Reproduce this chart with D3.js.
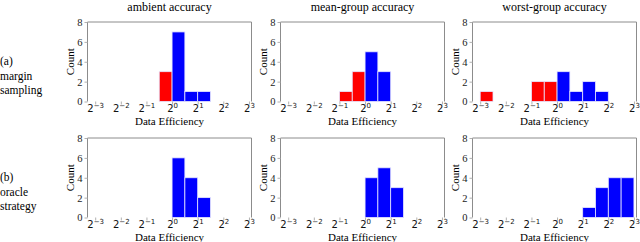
<!DOCTYPE html>
<html>
<head>
<meta charset="utf-8">
<script src="https://cdn.jsdelivr.net/npm/d3@7"></script>
<style>
  body { margin: 0; background: #fff; }
  svg text { font-family: "Liberation Serif", "Times New Roman", serif; }
  .tickX text { font-family: "DejaVu Sans", sans-serif; }
</style>
</head>
<body>
<div id="chart"></div>
<script>
// log2(data efficiency) bin starts, bin width 0.5
const binWidth = 0.5;
const columnTitles = ["ambient accuracy", "mean-group accuracy", "worst-group accuracy"];
const rowLabels = [["(a)", "margin", "sampling"], ["(b)", "oracle", "strategy"]];
const xTicks = [-3, -2, -1, 0, 1, 2, 3];
const yTicks = [0, 2, 4, 6, 8];

const marginAmbientBins = [-0.5, 0, 0.5, 1];
const marginAmbientCounts = [3, 7, 1, 1];
const marginMeanBins = [-1, -0.5, 0, 0.5];
const marginMeanCounts = [1, 3, 5, 3];
const marginWorstBins = [-3, -1, -0.5, 0, 0.5, 1, 1.5];
const marginWorstCounts = [1, 2, 2, 3, 1, 2, 1];

const oracleAmbientBins = [0, 0.5, 1];
const oracleAmbientCounts = [6, 4, 2];
const oracleMeanBins = [0, 0.5, 1];
const oracleMeanCounts = [4, 5, 3];
const oracleWorstBins = [1, 1.5, 2, 2.5];
const oracleWorstCounts = [1, 3, 4, 4];

const panels = [
  [[marginAmbientBins, marginAmbientCounts], [marginMeanBins, marginMeanCounts], [marginWorstBins, marginWorstCounts]],
  [[oracleAmbientBins, oracleAmbientCounts], [oracleMeanBins, oracleMeanCounts], [oracleWorstBins, oracleWorstCounts]]
];

const width = 640, height = 242;
const panelLefts = [87.5, 280.5, 472.5];
const panelW = 164;
const rowTops = [22, 138];
const panelH = 79.5;

const svg = d3.select("#chart").append("svg")
  .attr("width", width)
  .attr("height", height);

const x = d3.scaleLinear().domain([-3.3, 3.1]).range([0, panelW]);
const y = d3.scaleLinear().domain([0, 8]).range([panelH, 0]);

// column titles
columnTitles.forEach((t, c) => {
  svg.append("text")
    .attr("x", panelLefts[c] + panelW / 2)
    .attr("y", 11)
    .attr("text-anchor", "middle")
    .style("font-size", "12px")
    .text(t);
});

rowLabels.forEach((lines, r) => {
  const t = svg.append("text")
    .attr("x", 0)
    .attr("y", rowTops[r] + 43)
    .style("font-size", "11.5px");
  lines.forEach((l, i) => {
    t.append("tspan").attr("x", 0).attr("dy", i === 0 ? 0 : 14.5).text(l);
  });
});

panels.forEach((row, r) => {
  row.forEach(([bins, counts], c) => {
    const g = svg.append("g")
      .attr("transform", `translate(${panelLefts[c]},${rowTops[r]})`);

    const data = bins.map((b, i) => ({ x0: b, count: counts[i] }));

    g.append("g")
      .selectAll("rect")
      .data(data)
      .join("rect")
        .attr("x", d => x(d.x0))
        .attr("y", d => y(d.count))
        .attr("width", d => x(d.x0 + binWidth) - x(d.x0))
        .attr("height", d => y(0) - y(d.count))
        .attr("fill", d => d.x0 < 0 ? "#ff0000" : "#0000ff")
        .attr("stroke", "#e6e6ff")
        .attr("stroke-width", 0.8);

    // spines: left, top, right
    g.append("path")
      .attr("d", `M0,${panelH}V0H${panelW}V${panelH}`)
      .attr("fill", "none")
      .attr("stroke", "#8c8c8c")
      .attr("stroke-width", 1);

    // y axis
    const yAxis = g.append("g")
      .call(d3.axisLeft(y).tickValues(yTicks).tickSize(3).tickPadding(2))
      .call(a => a.select(".domain").remove());
    yAxis.selectAll("line").attr("stroke", "#b0b0b0");
    yAxis.selectAll("text")
      .style("font-family", "'Liberation Serif', serif")
      .style("font-size", "10.5px")
      .attr("fill", "#222");

    // x axis
    const xAxis = g.append("g")
      .attr("class", "tickX")
      .attr("transform", `translate(0,${panelH})`)
      .call(d3.axisBottom(x).tickValues(xTicks).tickSize(3).tickFormat(""))
      .call(a => a.select(".domain").remove());
    xAxis.selectAll("line").attr("stroke", "#b0b0b0");
    xAxis.selectAll(".tick").each(function(d) {
      const t = d3.select(this).append("text")
        .attr("y", 10.5)
        .attr("text-anchor", "middle")
        .attr("fill", "#111")
        .style("font-size", "10px");
      t.append("tspan").text("2");
      t.append("tspan")
        .attr("dy", -4)
        .style("font-size", "7px")
        .text(d < 0 ? "\u2212" + (-d) : d);
    });

    g.append("text")
      .attr("x", panelW / 2)
      .attr("y", panelH + 23.5)
      .attr("text-anchor", "middle")
      .style("font-size", "11px")
      .text("Data Efficiency");

    g.append("text")
      .attr("transform", `translate(-14,${panelH / 2}) rotate(-90)`)
      .attr("text-anchor", "middle")
      .style("font-size", "11px")
      .text("Count");
  });
});
</script>
</body>
</html>
